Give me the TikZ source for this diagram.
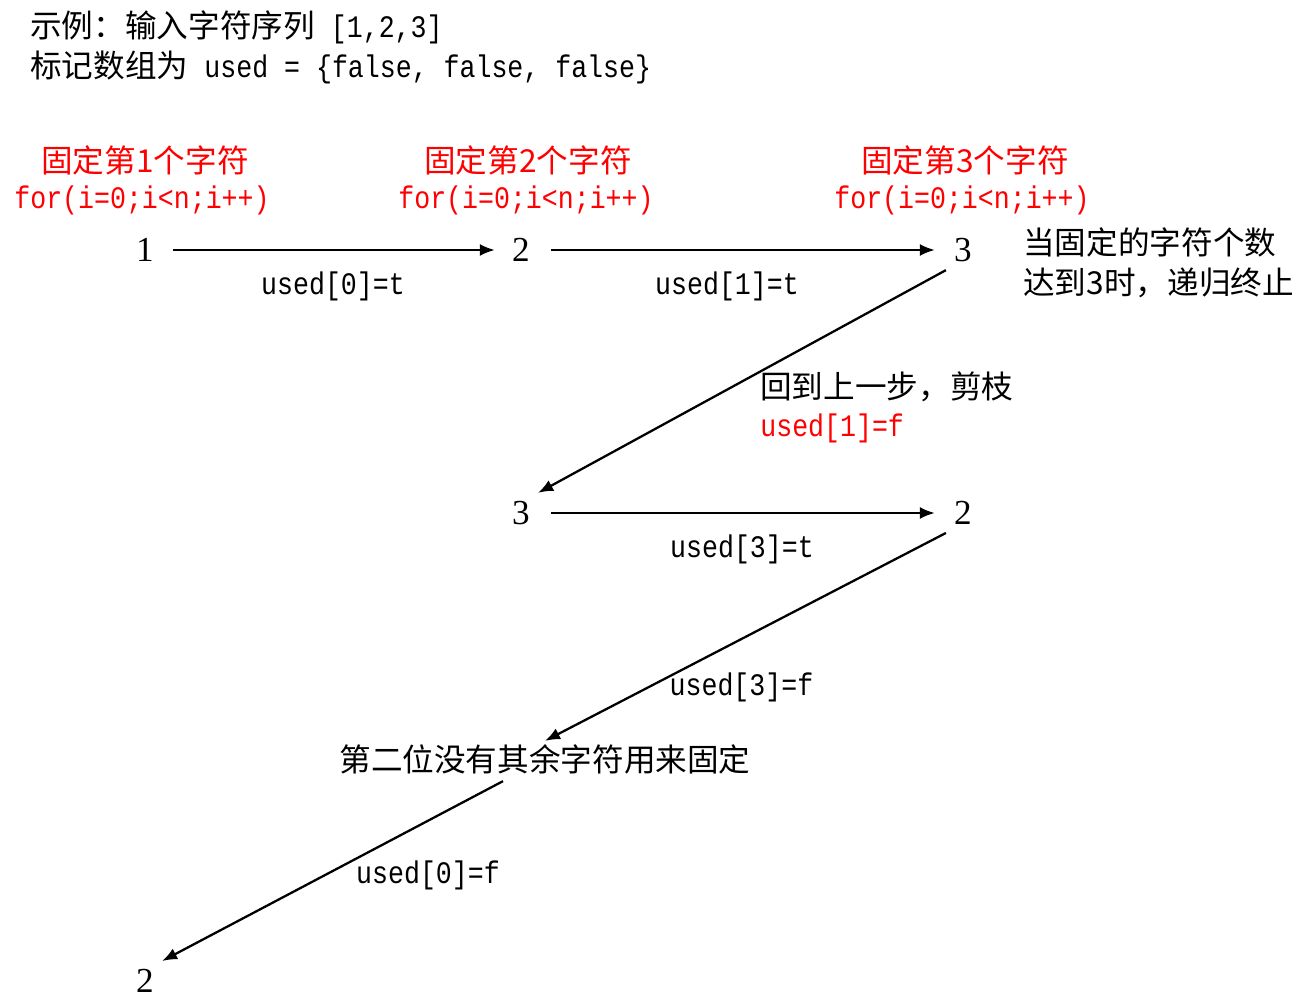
\documentclass[tikz,border=0pt]{standalone}
\usepackage{fontspec}
\setmainfont{Liberation Serif}
\setmonofont[FakeStretch=0.85]{Liberation Mono}
\newfontfamily\cjk{Noto Sans CJK SC}
\newcommand{\codefont}{\ttfamily\fontsize{17.8}{22}\selectfont}
\usetikzlibrary{arrows.meta,positioning}

\begin{document}
\begin{tikzpicture}[x=0.02cm,y=-0.02cm]
      \tikzstyle{num} = [font=\fontsize{20}{24}\selectfont, inner sep=0.16cm]
      \tikzstyle{note} = [font=\cjk\fontsize{18}{22.8}\selectfont, inner sep=0pt]
      \tikzstyle{codetxt} = [font=\codefont, inner sep=0pt]
      \tikzstyle{link} = [line width=1.3pt, -{Latex[length=0.3cm,width=0.24cm]}]
      \useasboundingbox (0,0) rectangle (1307,1006);
      % header
      \node (ex) [note, anchor=west] at (30,27) {示例：输入字符序列{\codefont\ [1,2,3]}};
      \node (arr) [note, anchor=west] at (30,67) {标记数组为{\codefont\ used = \{false, false, false\}}};
      % loop titles
      \node (h1) [note, red] at (145,160) {固定第1个字符};
      \node (f1) [codetxt, red] at (142,200) {for(i=0;i<n;i++)};
      \node (h2) [note, red] at (528,160) {固定第2个字符};
      \node (f2) [codetxt, red] at (526,200) {for(i=0;i<n;i++)};
      \node (h3) [note, red] at (965,160) {固定第3个字符};
      \node (f3) [codetxt, red] at (962,200) {for(i=0;i<n;i++)};
      % states
      \node (n1) [num] at (145,250) {1};
      \node (n2) [num] at (521,250) {2};
      \node (n3) [num] at (963,250) {3};
      \node (n3b) [num] at (521,513) {3};
      \node (n2b) [num] at (963,513) {2};
      \node (stop) [note, inner sep=0.06cm] at (545,759) {第二位没有其余字符用来固定};
      \node (n2c) [num] at (145,981) {2};
      % notes
      \node (end) [note, anchor=west, align=left] at (1023,263) {当固定的字符个数\\达到3时，递归终止};
      \node (back) [note, anchor=west] at (760,387) {回到上一步，剪枝};
      \node (backf) [codetxt, red, anchor=west] at (760,428) {used[1]=f};
      % edges
      \draw [link, shorten <=0.22cm, shorten >=0.18cm] (n1)--node[codetxt, midway, below=0.42cm]{used[0]=t} (n2);
      \draw [link, shorten <=0.26cm, shorten >=0.22cm] (n2)--node[codetxt, midway, below=0.42cm, xshift=-0.3cm]{used[1]=t} (n3);
      \draw [link] (n3.south west)--(n3b.north east);
      \draw [link, shorten <=0.26cm, shorten >=0.22cm] (n3b)--node[codetxt, midway, below=0.42cm]{used[3]=t} (n2b);
      \draw [link] (n2b.south west)--node[codetxt, pos=0.51, below=0.66cm]{used[3]=f} (stop.north);
      \draw [link] ([shift={(-42,4)}]stop.south)--node[codetxt, pos=0.22, below=0.78cm]{used[0]=f} (n2c.north east);
    \end{tikzpicture}
\end{document}
